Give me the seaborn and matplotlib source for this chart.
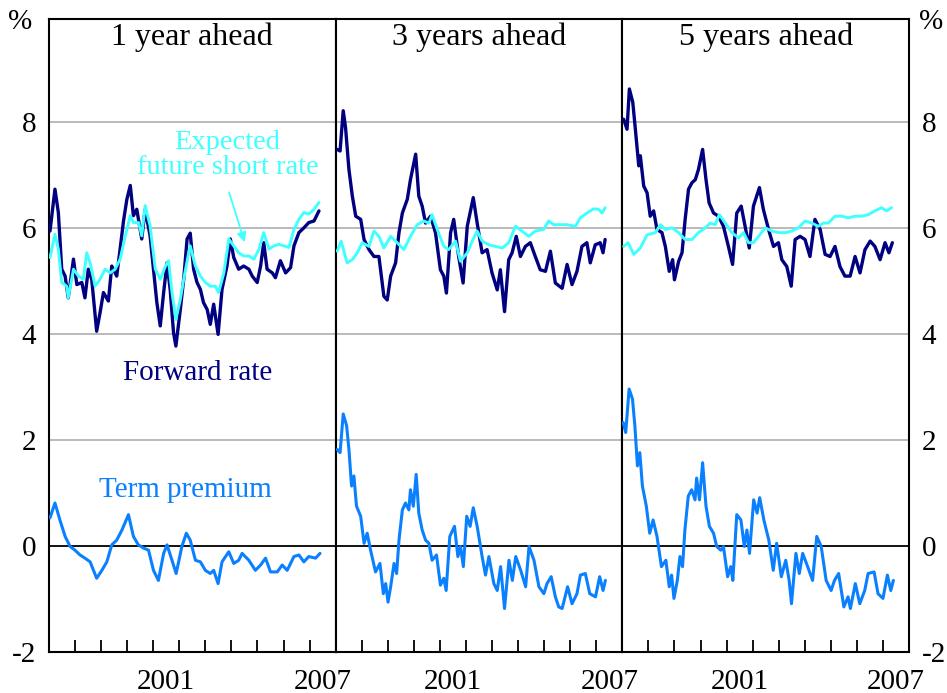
import matplotlib
matplotlib.use('Agg')
import matplotlib.pyplot as plt
import seaborn as sns

# 1 year ahead
f1_x = [1997.04, 1997.23, 1997.36, 1997.49, 1997.62, 1997.74, 1997.94, 1998.07, 1998.26, 1998.38, 1998.51, 1998.64,
        1998.83, 1998.96, 1999.09, 1999.28, 1999.41, 1999.6, 1999.73, 1999.86, 1999.99, 2000.12, 2000.24, 2000.37,
        2000.56, 2000.69, 2000.88, 2001.01, 2001.14, 2001.27, 2001.4, 2001.53, 2001.65, 2001.78, 2001.87, 2002.04,
        2002.17, 2002.3, 2002.42, 2002.55, 2002.68, 2002.81, 2002.93, 2003.07, 2003.19, 2003.32, 2003.49, 2003.64,
        2003.83, 2003.96, 2004.09, 2004.28, 2004.47, 2004.67, 2004.8, 2004.99, 2005.12, 2005.24, 2005.37, 2005.57,
        2005.69, 2005.88, 2006.08, 2006.27, 2006.4, 2006.59, 2006.78, 2006.97, 2007.17, 2007.36]
f1_y = [5.94, 6.73, 6.29, 5.22, 5.09, 4.68, 5.41, 4.93, 4.97, 4.68, 5.22, 5.03,
        4.05, 4.40, 4.78, 4.62, 5.28, 5.09, 5.6, 6.13, 6.54, 6.8, 6.23, 6.35,
        5.79, 6.35, 5.85, 5.22, 4.59, 4.15, 4.78, 5.34, 4.84, 4.02, 3.77, 4.46,
        5.03, 5.79, 5.9, 5.22, 4.97, 4.84, 4.59, 4.46, 4.18, 4.56, 3.99, 4.84,
        5.28, 5.79, 5.44, 5.22, 5.28, 5.22, 5.09, 4.97, 5.28, 5.72, 5.22, 5.15,
        5.06, 5.38, 5.15, 5.25, 5.66, 5.91, 6.0, 6.1, 6.13, 6.32]
e1_x = [1997.04, 1997.23, 1997.36, 1997.49, 1997.68, 1997.74, 1997.94, 1998.13, 1998.32, 1998.45, 1998.58, 1998.77,
        1998.96, 1999.15, 1999.35, 1999.54, 1999.73, 1999.93, 2000.12, 2000.24, 2000.44, 2000.56, 2000.69, 2000.88,
        2001.08, 2001.27, 2001.47, 2001.59, 2001.72, 2001.87, 2002.04, 2002.17, 2002.36, 2002.42, 2002.62, 2002.81,
        2003.0, 2003.19, 2003.38, 2003.51, 2003.71, 2003.9, 2004.09, 2004.28, 2004.47, 2004.67, 2004.86, 2005.06,
        2005.24, 2005.44, 2005.63, 2005.82, 2006.01, 2006.21, 2006.4, 2006.59, 2006.78, 2006.97, 2007.17, 2007.36]
e1_y = [5.44, 5.88, 5.6, 4.97, 4.9, 4.68, 5.22, 5.09, 5.03, 5.53, 5.34, 4.9,
        5.03, 5.22, 5.15, 5.22, 5.41, 5.85, 6.23, 6.1, 6.1, 5.85, 6.42, 6.04,
        5.22, 5.03, 5.28, 5.38, 4.78, 4.27, 4.65, 5.03, 5.53, 5.66, 5.28, 5.09,
        4.97, 4.9, 4.9, 4.78, 5.15, 5.79, 5.66, 5.53, 5.47, 5.47, 5.41, 5.6,
        5.91, 5.6, 5.66, 5.69, 5.66, 5.63, 5.97, 6.16, 6.29, 6.26, 6.35, 6.48]
t1_x = [1997.04, 1997.23, 1997.42, 1997.62, 1997.81, 1998.0, 1998.19, 1998.38, 1998.58, 1998.83, 1999.03, 1999.22,
        1999.41, 1999.6, 1999.8, 2000.05, 2000.24, 2000.43, 2000.63, 2000.82, 2001.01, 2001.2, 2001.4, 2001.53,
        2001.72, 2001.88, 2002.1, 2002.27, 2002.42, 2002.62, 2002.81, 2003.0, 2003.19, 2003.32, 2003.49, 2003.64,
        2003.9, 2004.09, 2004.28, 2004.41, 2004.67, 2004.92, 2005.12, 2005.31, 2005.5, 2005.76, 2005.95, 2006.14,
        2006.4, 2006.59, 2006.78, 2006.97, 2007.23, 2007.4]
t1_y = [0.53, 0.81, 0.49, 0.18, -0.01, -0.08, -0.17, -0.23, -0.3, -0.61, -0.46, -0.3,
        0.02, 0.11, 0.3, 0.59, 0.18, 0.02, -0.04, -0.08, -0.46, -0.65, -0.14, 0.02,
        -0.27, -0.52, -0.01, 0.24, 0.11, -0.27, -0.3, -0.46, -0.52, -0.46, -0.71, -0.3,
        -0.11, -0.33, -0.27, -0.14, -0.27, -0.46, -0.36, -0.23, -0.49, -0.49, -0.36, -0.46,
        -0.2, -0.17, -0.3, -0.2, -0.23, -0.14]

# 3 years ahead
f3_x = [1997.06, 1997.17, 1997.29, 1997.38, 1997.51, 1997.64, 1997.77, 1997.96, 1998.09, 1998.28, 1998.47, 1998.66,
        1998.85, 1998.98, 1999.11, 1999.3, 1999.43, 1999.56, 1999.75, 1999.87, 2000.07, 2000.19, 2000.32, 2000.45,
        2000.64, 2000.83, 2001.02, 2001.15, 2001.25, 2001.41, 2001.53, 2001.72, 2001.89, 2002.05, 2002.28, 2002.43,
        2002.62, 2002.81, 2003.0, 2003.2, 2003.32, 2003.48, 2003.64, 2003.77, 2003.93, 2004.09, 2004.28, 2004.47,
        2004.66, 2004.85, 2005.05, 2005.24, 2005.43, 2005.69, 2005.88, 2006.07, 2006.26, 2006.45, 2006.64, 2006.77,
        2006.96, 2007.15, 2007.26, 2007.34]
f3_y = [7.48, 7.45, 8.21, 7.89, 7.1, 6.6, 6.22, 6.16, 5.78, 5.59, 5.46, 5.46,
        4.71, 4.64, 5.09, 5.34, 5.91, 6.28, 6.54, 6.91, 7.39, 6.6, 6.41, 6.09,
        6.22, 5.91, 5.21, 5.09, 4.77, 5.91, 6.16, 5.46, 4.96, 6.03, 6.57, 6.09,
        5.53, 5.59, 5.15, 4.83, 5.21, 4.42, 5.4, 5.53, 5.84, 5.46, 5.65, 5.72,
        5.46, 5.21, 5.18, 5.56, 4.96, 4.86, 5.31, 4.93, 5.18, 5.65, 5.72, 5.34,
        5.68, 5.72, 5.53, 5.78]
e3_x = [1997.06, 1997.21, 1997.44, 1997.64, 1997.83, 1998.02, 1998.28, 1998.47, 1998.66, 1998.85, 1999.11, 1999.36,
        1999.62, 1999.87, 2000.13, 2000.38, 2000.58, 2000.7, 2000.9, 2001.15, 2001.34, 2001.6, 2001.79, 2002.05,
        2002.24, 2002.43, 2002.62, 2002.88, 2003.13, 2003.39, 2003.64, 2003.9, 2004.15, 2004.41, 2004.66, 2004.98,
        2005.17, 2005.37, 2005.62, 2005.88, 2006.2, 2006.39, 2006.64, 2006.9, 2007.09, 2007.22, 2007.34]
e3_y = [5.56, 5.75, 5.34, 5.4, 5.53, 5.72, 5.65, 5.94, 5.84, 5.62, 5.84, 5.72,
        5.59, 5.84, 6.06, 6.13, 6.09, 6.25, 5.97, 5.65, 5.59, 5.75, 5.37, 5.53,
        5.75, 5.94, 5.75, 5.68, 5.65, 5.62, 5.72, 6.03, 5.94, 5.84, 5.94, 5.97,
        6.13, 6.06, 6.06, 6.06, 6.03, 6.19, 6.28, 6.36, 6.35, 6.28, 6.38]
t3_x = [1997.06, 1997.17, 1997.29, 1997.42, 1997.51, 1997.61, 1997.7, 1997.8, 1997.96, 1998.09, 1998.21, 1998.34,
        1998.53, 1998.7, 1998.83, 1998.92, 1999.01, 1999.11, 1999.24, 1999.34, 1999.43, 1999.56, 1999.68, 1999.81,
        1999.87, 1999.98, 2000.09, 2000.19, 2000.32, 2000.45, 2000.58, 2000.7, 2000.87, 2001.02, 2001.15, 2001.24,
        2001.38, 2001.56, 2001.69, 2001.79, 2001.9, 2002.03, 2002.16, 2002.28, 2002.43, 2002.62, 2002.75, 2002.88,
        2003.07, 2003.2, 2003.33, 2003.48, 2003.65, 2003.78, 2003.91, 2004.1, 2004.29, 2004.42, 2004.61, 2004.8,
        2004.99, 2005.11, 2005.27, 2005.43, 2005.56, 2005.69, 2005.9, 2006.07, 2006.26, 2006.39, 2006.58, 2006.75,
        2006.97, 2007.13, 2007.26, 2007.35]
t3_y = [1.82, 1.76, 2.49, 2.27, 1.82, 1.13, 1.32, 0.75, 0.56, 0.05, 0.24, -0.08,
        -0.49, -0.33, -0.9, -0.71, -1.06, -0.77, -0.33, -0.52, 0.11, 0.68, 0.81, 0.68,
        1.06, 0.75, 1.35, 0.62, 0.3, 0.11, 0.05, -0.27, -0.17, -0.74, -0.61, -0.84,
        0.18, 0.37, -0.2, -0.01, -0.39, 0.56, 0.37, 0.72, 0.37, -0.2, -0.55, -0.2,
        -0.71, -0.84, -0.39, -1.18, -0.27, -0.65, -0.2, -0.46, -0.77, -0.01, -0.27, -0.77,
        -0.9, -0.71, -0.58, -0.96, -1.15, -1.18, -0.77, -1.09, -0.9, -0.55, -0.52, -0.9,
        -0.96, -0.58, -0.84, -0.65]

# 5 years ahead
f5_x = [1997.05, 1997.18, 1997.27, 1997.4, 1997.5, 1997.63, 1997.69, 1997.82, 1997.95, 1998.07, 1998.2, 1998.33,
        1998.52, 1998.65, 1998.8, 1998.93, 1999.0, 1999.16, 1999.29, 1999.41, 1999.54, 1999.67, 1999.8, 1999.92,
        2000.08, 2000.21, 2000.33, 2000.5, 2000.69, 2000.88, 2001.07, 2001.23, 2001.39, 2001.56, 2001.71, 2001.87,
        2002.03, 2002.26, 2002.41, 2002.61, 2002.8, 2002.99, 2003.12, 2003.31, 2003.48, 2003.63, 2003.82, 2004.01,
        2004.2, 2004.39, 2004.59, 2004.78, 2004.97, 2005.16, 2005.35, 2005.54, 2005.74, 2005.93, 2006.12, 2006.31,
        2006.51, 2006.69, 2006.89, 2007.08, 2007.23, 2007.36]
f5_y = [8.05, 7.86, 8.62, 8.37, 7.86, 7.17, 7.36, 6.79, 6.66, 6.22, 6.32, 5.97,
        5.91, 5.65, 5.18, 5.4, 5.02, 5.37, 5.53, 6.16, 6.73, 6.85, 6.91, 7.1,
        7.48, 6.91, 6.47, 6.28, 6.22, 6.03, 5.65, 5.31, 6.28, 6.41, 6.03, 5.62,
        6.41, 6.76, 6.35, 5.97, 5.65, 5.72, 5.4, 5.27, 4.9, 5.78, 5.84, 5.78,
        5.46, 6.16, 5.97, 5.5, 5.46, 5.65, 5.27, 5.09, 5.09, 5.46, 5.15, 5.59,
        5.75, 5.65, 5.4, 5.72, 5.53, 5.72]
e5_x = [1997.05, 1997.22, 1997.44, 1997.69, 1997.95, 1998.27, 1998.46, 1998.65, 1998.91, 1999.16, 1999.41, 1999.67,
        1999.92, 2000.18, 2000.37, 2000.56, 2000.72, 2000.95, 2001.2, 2001.46, 2001.65, 2001.84, 2002.03, 2002.23,
        2002.48, 2002.74, 2002.99, 2003.25, 2003.5, 2003.76, 2004.01, 2004.27, 2004.52, 2004.71, 2004.9, 2005.16,
        2005.41, 2005.67, 2005.93, 2006.18, 2006.44, 2006.69, 2006.95, 2007.14, 2007.33]
e5_y = [5.65, 5.72, 5.5, 5.62, 5.87, 5.91, 6.06, 5.97, 6.0, 5.91, 5.78, 5.78,
        5.91, 6.0, 6.09, 6.06, 6.25, 6.09, 5.91, 5.81, 5.91, 5.72, 5.72, 5.84,
        6.0, 5.94, 5.91, 5.91, 5.94, 6.0, 6.13, 6.09, 6.03, 6.09, 6.09, 6.22,
        6.22, 6.19, 6.22, 6.22, 6.25, 6.32, 6.38, 6.32, 6.38]
t5_x = [1997.03, 1997.13, 1997.26, 1997.39, 1997.48, 1997.58, 1997.67, 1997.77, 1997.92, 1998.05, 1998.18, 1998.33,
        1998.5, 1998.67, 1998.8, 1998.89, 1998.98, 1999.11, 1999.21, 1999.31, 1999.4, 1999.53, 1999.66, 1999.79,
        1999.85, 1999.96, 2000.08, 2000.21, 2000.34, 2000.5, 2000.62, 2000.78, 2000.88, 2001.04, 2001.16, 2001.24,
        2001.39, 2001.55, 2001.68, 2001.78, 2001.88, 2002.04, 2002.17, 2002.27, 2002.43, 2002.62, 2002.79, 2002.92,
        2003.1, 2003.27, 2003.4, 2003.49, 2003.66, 2003.79, 2003.92, 2004.11, 2004.3, 2004.46, 2004.63, 2004.82,
        2005.01, 2005.14, 2005.3, 2005.5, 2005.66, 2005.75, 2005.94, 2006.11, 2006.3, 2006.43, 2006.66, 2006.81,
        2007.0, 2007.17, 2007.3, 2007.4]
t5_y = [2.33, 2.14, 2.96, 2.77, 2.27, 1.51, 1.76, 1.13, 0.75, 0.24, 0.49, 0.18,
        -0.39, -0.27, -0.77, -0.55, -0.99, -0.65, -0.2, -0.39, 0.3, 0.94, 1.06, 0.87,
        1.28, 0.87, 1.57, 0.75, 0.37, 0.24, -0.01, -0.08, -0.01, -0.58, -0.39, -0.65,
        0.59, 0.49, -0.01, 0.3, -0.14, 0.87, 0.62, 0.91, 0.49, 0.11, -0.46, 0.05,
        -0.58, -0.27, -0.65, -1.09, -0.14, -0.52, -0.14, -0.39, -0.65, 0.18, -0.01, -0.65,
        -0.84, -0.65, -0.52, -1.15, -0.96, -1.18, -0.71, -1.09, -0.84, -0.52, -0.49, -0.9,
        -0.99, -0.55, -0.84, -0.65]

paineis = ['1 year ahead', '3 years ahead', '5 years ahead']
yticks = [-2, 0, 2, 4, 6, 8]
anos_rotulo = ['2001', '2007']

cor_forward = '#000080'
cor_esperado = '#40FFFF'
cor_premio = '#0A80FF'

sns.set_theme(style='white')
plt.rcParams['font.family'] = ['Liberation Serif', 'DejaVu Serif']
plt.rcParams['axes.unicode_minus'] = False
plt.rcParams['text.color'] = 'black'
plt.rcParams['xtick.color'] = 'black'
plt.rcParams['ytick.color'] = 'black'

fig = plt.figure(figsize=(9.47, 6.93), dpi=100)
axes = fig.subplots(1, 3, sharey=True)
fig.subplots_adjust(left=0.0517, right=0.9599, bottom=0.0592, top=0.9726, wspace=0)

dados = [(f1_x, f1_y, e1_x, e1_y, t1_x, t1_y),
         (f3_x, f3_y, e3_x, e3_y, t3_x, t3_y),
         (f5_x, f5_y, e5_x, e5_y, t5_x, t5_y)]

for i, ax in enumerate(axes):
    fx, fy, ex, ey, tx, ty = dados[i]
    for v in [2, 4, 6, 8]:
        ax.axhline(v, color='#b4b4b4', lw=1.3, zorder=0)
    ax.axhline(0, color='black', lw=1.3, zorder=1)
    sns.lineplot(x=fx, y=fy, ax=ax, color=cor_forward, lw=2.4, estimator=None, sort=False, zorder=3)
    sns.lineplot(x=ex, y=ey, ax=ax, color=cor_esperado, lw=2.1, estimator=None, sort=False, zorder=4)
    sns.lineplot(x=tx, y=ty, ax=ax, color=cor_premio, lw=2.2, estimator=None, sort=False, zorder=4)
    ax.set_xlim(1997, 2008)
    ax.set_ylim(-2, 9.94)
    ax.set_xlabel('')
    ax.set_ylabel('')
    ax.set_xticks([2001.5, 2007.5])
    ax.set_xticklabels(anos_rotulo)
    ax.set_xticks(range(1998, 2008), minor=True)
    ax.tick_params(axis='x', which='major', length=0, pad=12, labelsize=21)
    ax.tick_params(axis='x', which='minor', direction='in', length=8.5, width=1.3, color='black', bottom=True)
    ax.set_yticks(yticks)
    ax.tick_params(axis='y', length=0, labelsize=21, pad=9, labelleft=(i == 0))
    for s in ax.spines.values():
        s.set_color('black')
        s.set_linewidth(1.5)
    ax.text(0.5, 0.9716, paineis[i], transform=ax.transAxes, ha='center', va='center', fontsize=23)

axes[2].tick_params(axis='y', labelright=True, right=False)

ax = axes[0]
ax.text(2003.85, 7.38, 'Expected\nfuture short rate', color=cor_esperado, ha='center', va='center',
        fontsize=20.5, linespacing=1.0)
ax.annotate('', xy=(2004.54, 5.68), xytext=(2003.88, 6.72),
            arrowprops=dict(arrowstyle='-|>', color=cor_esperado, lw=1.3, mutation_scale=14))
ax.text(2002.69, 3.26, 'Forward rate', color=cor_forward, ha='center', va='center', fontsize=21)
ax.text(2002.23, 1.06, 'Term premium', color=cor_premio, ha='center', va='center', fontsize=21)

fig.text(20 / 947, 1 - 22 / 693, '%', ha='center', va='center', fontsize=21)
fig.text(931 / 947, 1 - 22 / 693, '%', ha='center', va='center', fontsize=21)

fig.savefig('out.png', dpi=100)
